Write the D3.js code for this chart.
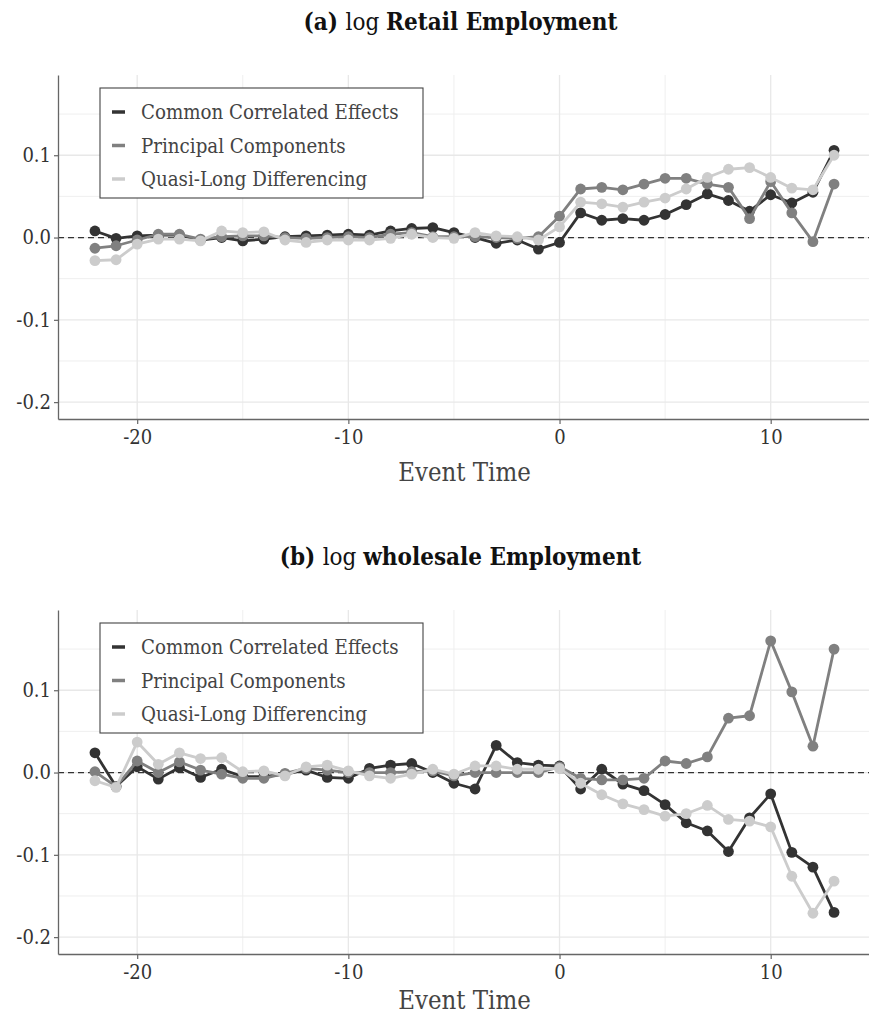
<!DOCTYPE html>
<html>
<head>
<meta charset="utf-8">
<script src="https://cdn.jsdelivr.net/npm/d3@7/dist/d3.min.js"></script>
<style>
  html, body { margin: 0; padding: 0; background: #fff; }
  svg { display: block; }
  text { font-family: "DejaVu Serif Condensed", "DejaVu Serif", "Liberation Serif", serif; font-stretch: condensed; }
</style>
</head>
<body>
<svg id="chart" width="869" height="1019"></svg>
<script>
// Event time axis
const eventTime = d3.range(-22, 14);

const seriesNames = ["Common Correlated Effects", "Principal Components", "Quasi-Long Differencing"];
const seriesColors = ["#333333", "#808080", "#cccccc"];

// Panel (a): log retail employment
const retailCCE = [0.008, -0.001, 0.002, 0.003, 0.003, -0.003, 0.000, -0.004, -0.002, 0.001, 0.002, 0.003,
  0.004, 0.003, 0.008, 0.011, 0.012, 0.006, 0.000, -0.007, -0.003, -0.014,
  -0.006, 0.030, 0.021, 0.023, 0.021, 0.028, 0.040, 0.053, 0.045, 0.032, 0.052, 0.042, 0.055, 0.106];
const retailPC = [-0.013, -0.010, -0.003, 0.004, 0.004, -0.002, 0.001, 0.002, 0.002, 0.000, -0.001, 0.000,
  0.001, 0.000, 0.004, 0.006, 0.001, 0.001, 0.001, 0.000, -0.001, 0.001,
  0.026, 0.059, 0.061, 0.058, 0.065, 0.072, 0.072, 0.065, 0.061, 0.023, 0.068, 0.030, -0.005, 0.065];
const retailQLD = [-0.028, -0.027, -0.008, -0.002, -0.002, -0.004, 0.008, 0.006, 0.007, -0.003, -0.006, -0.003,
  -0.003, -0.003, -0.001, 0.004, 0.000, -0.001, 0.006, 0.002, 0.001, -0.003,
  0.013, 0.043, 0.041, 0.037, 0.043, 0.048, 0.059, 0.073, 0.083, 0.085, 0.073, 0.060, 0.058, 0.100];

// Panel (b): log wholesale employment
const wholesaleCCE = [0.024, -0.017, 0.007, -0.008, 0.006, -0.006, 0.004, -0.005, -0.005, -0.002, 0.003, -0.006,
  -0.007, 0.005, 0.009, 0.011, 0.000, -0.013, -0.020, 0.033, 0.012, 0.009,
  0.008, -0.020, 0.004, -0.014, -0.022, -0.039, -0.061, -0.071, -0.096, -0.055, -0.026, -0.097, -0.115, -0.170];
const wholesalePC = [0.001, -0.017, 0.014, 0.000, 0.013, 0.003, -0.002, -0.007, -0.007, -0.001, 0.005, 0.003,
  0.000, 0.000, 0.000, 0.001, 0.002, -0.004, 0.000, 0.000, 0.000, 0.000,
  0.007, -0.007, -0.009, -0.009, -0.007, 0.014, 0.011, 0.019, 0.066, 0.069, 0.160, 0.098, 0.032, 0.150];
const wholesaleQLD = [-0.010, -0.018, 0.037, 0.010, 0.024, 0.017, 0.018, 0.001, 0.002, -0.004, 0.007, 0.009,
  0.002, -0.004, -0.007, -0.002, 0.004, -0.002, 0.008, 0.008, 0.004, 0.004,
  0.005, -0.013, -0.027, -0.038, -0.045, -0.053, -0.050, -0.040, -0.057, -0.059, -0.066, -0.126, -0.171, -0.132];

const xTicks = [-20, -10, 0, 10];
const xTickLabels = ["-20", "-10", "0", "10"];
const xMinor = [-15, -5, 5];
const yTicks = [0.1, 0.0, -0.1, -0.2];
const yTickLabels = ["0.1", "0.0", "-0.1", "-0.2"];
const yMinor = [0.15, 0.05, -0.05, -0.15];

const panels = [
  { label: "(a)", outcome: "Retail Employment", series: [retailCCE, retailPC, retailQLD], top: 75, titleGap: 62 },
  { label: "(b)", outcome: "wholesale Employment", series: [wholesaleCCE, wholesalePC, wholesaleQLD], top: 610, titleGap: 55 }
];

const svg = d3.select("#chart");
const left = 58, right = 871, plotH = 344;

const x = d3.scaleLinear().domain([-23.75, 14.75]).range([left, right]);

panels.forEach(p => {
  const g = svg.append("g");
  const y = d3.scaleLinear().domain([-0.2205, 0.1975]).range([p.top + plotH, p.top]);

  // grid
  const grid = g.append("g");
  grid.selectAll(".vmin").data(xMinor).join("line")
    .attr("x1", d => x(d)).attr("x2", d => x(d)).attr("y1", p.top).attr("y2", p.top + plotH)
    .attr("stroke", "#efefef").attr("stroke-width", 1);
  grid.selectAll(".hmin").data(yMinor).join("line")
    .attr("x1", left).attr("x2", right).attr("y1", d => y(d)).attr("y2", d => y(d))
    .attr("stroke", "#efefef").attr("stroke-width", 1);
  grid.selectAll(".vmaj").data(xTicks).join("line")
    .attr("x1", d => x(d)).attr("x2", d => x(d)).attr("y1", p.top).attr("y2", p.top + plotH)
    .attr("stroke", "#e8e8e8").attr("stroke-width", 1.3);
  grid.selectAll(".hmaj").data(yTicks).join("line")
    .attr("x1", left).attr("x2", right).attr("y1", d => y(d)).attr("y2", d => y(d))
    .attr("stroke", "#e8e8e8").attr("stroke-width", 1.3);

  // zero reference
  g.append("line").attr("x1", left).attr("x2", right).attr("y1", y(0)).attr("y2", y(0))
    .attr("stroke", "#333").attr("stroke-width", 1.2).attr("stroke-dasharray", "6,4");

  // series
  const line = d3.line().x((d, i) => x(eventTime[i])).y(d => y(d));
  p.series.forEach((vals, k) => {
    const sg = g.append("g");
    sg.append("path").attr("d", line(vals)).attr("fill", "none")
      .attr("stroke", seriesColors[k]).attr("stroke-width", 2.8).attr("stroke-linejoin", "round");
    sg.selectAll("circle").data(vals).join("circle")
      .attr("cx", (d, i) => x(eventTime[i])).attr("cy", d => y(d)).attr("r", 5.4)
      .attr("fill", seriesColors[k]);
  });

  // axes
  const xAxis = d3.axisBottom(x).tickValues(xTicks).tickFormat((d, i) => xTickLabels[i]).tickSize(5).tickSizeOuter(0);
  const gx = g.append("g").attr("transform", `translate(0,${p.top + plotH})`).call(xAxis);
  gx.select(".domain").attr("stroke", "#666").attr("stroke-width", 1.3);
  gx.selectAll(".tick line").attr("stroke", "#666").attr("stroke-width", 1.2);
  gx.selectAll(".tick text").attr("fill", "#333").attr("font-size", 20).attr("dy", "0.85em");

  const yAxis = d3.axisLeft(y).tickValues(yTicks).tickFormat((d, i) => yTickLabels[i]).tickSize(4).tickSizeOuter(0);
  const gy = g.append("g").attr("transform", `translate(${left},0)`).call(yAxis);
  gy.select(".domain").attr("stroke", "#666").attr("stroke-width", 1.3);
  gy.selectAll(".tick line").attr("stroke", "#666").attr("stroke-width", 1.2);
  gy.selectAll(".tick text").attr("fill", "#333").attr("font-size", 20).attr("x", -7);
  g.selectAll(".tick text").attr("font-family", null);

  // axis title
  g.append("text").attr("x", (left + right) / 2).attr("y", p.top + plotH + p.titleGap)
    .attr("text-anchor", "middle").attr("font-size", 25.5).attr("fill", "#444").text("Event Time");

  // panel title
  const t = g.append("text").attr("x", (left + right) / 2 - 4).attr("y", p.top - 45)
    .attr("text-anchor", "middle").attr("font-size", 24).attr("fill", "#111");
  t.append("tspan").attr("font-weight", "bold").text(p.label + " ");
  t.append("tspan").attr("font-weight", "normal").text("log ");
  t.append("tspan").attr("font-weight", "bold").text(p.outcome);

  // legend
  const lg = g.append("g").attr("transform", `translate(100,${p.top + 13})`);
  lg.append("rect").attr("x", 0).attr("y", 0).attr("width", 323).attr("height", 110)
    .attr("fill", "#fff").attr("stroke", "#444").attr("stroke-width", 1.1);
  seriesNames.forEach((name, k) => {
    const ry = 24 + k * 33.5;
    lg.append("line").attr("x1", 12).attr("x2", 25).attr("y1", ry).attr("y2", ry)
      .attr("stroke", seriesColors[k]).attr("stroke-width", 3.5);
    lg.append("text").attr("x", 41).attr("y", ry).attr("dy", "0.35em")
      .attr("font-size", 20.3).attr("fill", "#444").text(name);
  });
});
</script>
</body>
</html>
